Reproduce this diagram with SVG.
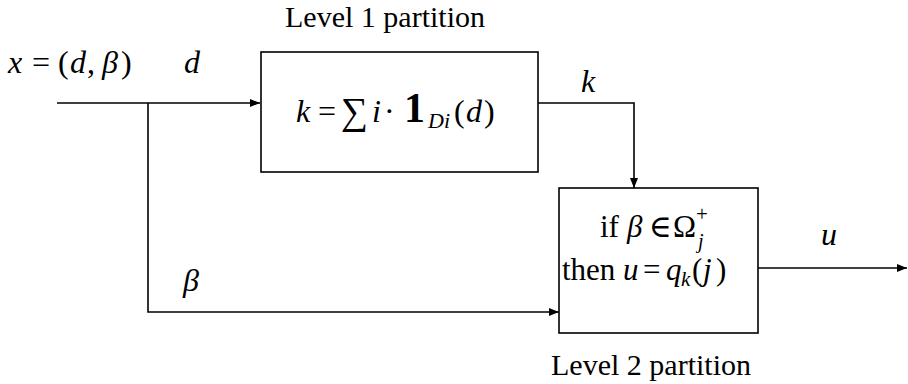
<svg xmlns="http://www.w3.org/2000/svg" width="908" height="384" viewBox="0 0 908 384">
<style>
  text { font-family: "Liberation Serif", "DejaVu Serif", serif; fill: #000; }
  .lbl { font-size: 30px; }
  .m { font-style: italic; }
  .box { fill: #fff; stroke: #000; stroke-width: 1.6; }
  .wire { fill: none; stroke: #000; stroke-width: 1.6; }
</style>
<defs>
  <marker id="arr" markerUnits="userSpaceOnUse" markerWidth="10" markerHeight="8" refX="10" refY="4" orient="auto">
    <path d="M0,0 L10,4 L0,8 z" fill="#000"/>
  </marker>
</defs>

<g id="connectors">
  <path class="wire" d="M57,103 H260" marker-end="url(#arr)"/>
  <path class="wire" d="M148,103 V312 H559" marker-end="url(#arr)"/>
  <path class="wire" d="M538,103 H634 V188" marker-end="url(#arr)"/>
  <path class="wire" d="M758,268 H907" marker-end="url(#arr)"/>
</g>

<g id="labels">
  <text x="8" y="73" font-size="32px"><tspan class="m">x</tspan><tspan x="32">=</tspan><tspan x="58">(</tspan><tspan x="70" class="m">d</tspan><tspan x="87">,</tspan><tspan x="102" class="m">β</tspan><tspan x="121">)</tspan></text>
  <text class="m" x="184" y="73" font-size="32px">d</text>
  <text class="m" x="183" y="291" font-size="32px">β</text>
  <text class="m" x="581" y="92" font-size="32px">k</text>
  <text class="m" x="821" y="245" font-size="32px">u</text>
</g>

<g id="level1">
  <text class="lbl" x="385" y="27" text-anchor="middle">Level 1 partition</text>
  <rect class="box" x="261" y="52" width="277" height="120"/>
  <text x="296" y="122" font-size="32px"><tspan class="m">k</tspan><tspan x="318">=</tspan><tspan x="341" y="124" font-size="38px">∑</tspan><tspan x="372" y="122" class="m">i</tspan><tspan x="384">·</tspan><tspan x="404" font-size="42px" font-weight="bold">1</tspan><tspan x="428" y="128" font-size="22px" class="m">Di</tspan><tspan x="454" y="122">(</tspan><tspan x="466" class="m">d</tspan><tspan x="484">)</tspan></text>
</g>

<g id="level2">
  <rect class="box" x="559" y="188" width="199" height="145"/>
  <text x="600" y="237" font-size="31px">if<tspan class="m" x="627">β</tspan><tspan x="649">∈</tspan><tspan x="673">Ω</tspan><tspan x="696" y="221" font-size="21px">+</tspan><tspan x="698" y="248" font-size="20px" class="m">j</tspan></text>
  <text x="562" y="280" font-size="31px">then<tspan class="m" x="623">u</tspan><tspan x="643">=</tspan><tspan x="666" class="m">q</tspan><tspan x="681" y="286" font-size="21px" class="m">k</tspan><tspan x="692" y="280">(</tspan><tspan x="703" class="m">j</tspan><tspan x="716">)</tspan></text>
  <text class="lbl" x="651" y="375" text-anchor="middle">Level 2 partition</text>
</g>
</svg>
